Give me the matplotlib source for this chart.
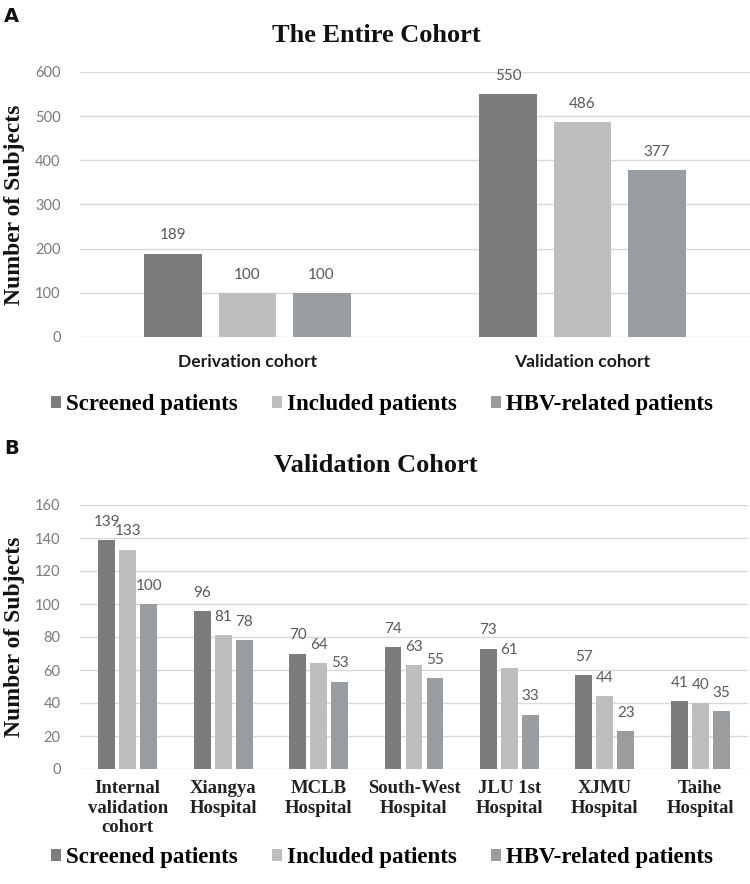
import matplotlib
matplotlib.use("Agg")
import matplotlib.pyplot as plt
from matplotlib.patches import Patch
import numpy as np

# ---- data ----
series_names = ["Screened patients", "Included patients", "HBV-related patients"]
colors = ["#7b7c7e", "#bdbec0", "#9a9d9f"]

a_categories = ["Derivation cohort", "Validation cohort"]
a_screened = [189, 550]
a_included = [100, 486]
a_hbv = [100, 377]
a_ticks = [0, 100, 200, 300, 400, 500, 600]

b_categories = ["Internal\nvalidation\ncohort", "Xiangya\nHospital", "MCLB\nHospital",
                "South-West\nHospital", "JLU 1st\nHospital", "XJMU\nHospital", "Taihe\nHospital"]
b_screened = [139, 96, 70, 74, 73, 57, 41]
b_included = [133, 81, 64, 63, 61, 44, 40]
b_hbv = [100, 78, 53, 55, 33, 23, 35]
b_ticks = [0, 20, 40, 60, 80, 100, 120, 140, 160]

W, H = 750, 884
fig = plt.figure(figsize=(W / 100, H / 100), dpi=100)
fig.patch.set_facecolor("white")

SANS = ["Lato", "DejaVu Sans"]
SERIF = ["Liberation Serif", "DejaVu Serif"]
TICK_C = "#7a7a7a"
LAB_C = "#595959"
GRID_C = "#d9d9d9"


def px_axes(x0, y_top, x1, y_bot):
    return fig.add_axes([x0 / W, 1 - y_bot / H, (x1 - x0) / W, (y_bot - y_top) / H])


def draw_panel(ax, cats, series, ticks, width, step):
    n = len(cats)
    x = np.arange(n)
    for i, (vals, col) in enumerate(zip(series, colors)):
        pos = x + (i - 1) * step
        ax.bar(pos, vals, width=width, color=col, zorder=3)
        for xb, v in zip(pos, vals):
            ax.annotate(str(v), (xb, v), xytext=(0, 13), textcoords="offset points",
                        ha="center", va="center", fontsize=11, color=LAB_C,
                        family=SANS, zorder=4)
    ax.set_xlim(-0.5, n - 0.5)
    ax.set_ylim(ticks[0], ticks[-1])
    ax.set_yticks(ticks)
    ax.grid(axis="y", color=GRID_C, linewidth=1.0, zorder=0)
    ax.set_axisbelow(True)
    for s in ax.spines.values():
        s.set_visible(False)
    ax.tick_params(axis="y", length=0, pad=14, labelsize=10.5, labelcolor=TICK_C)
    for t in ax.get_yticklabels():
        t.set_family(SANS)
    ax.tick_params(axis="x", length=0)
    ax.set_xticks(x)
    ax.set_xticklabels([])
    ax.set_ylabel("Number of Subjects", family=SERIF, fontweight="bold",
                  fontsize=17, color="#111111", labelpad=4)
    ax.yaxis.set_label_coords(-0.082, 0.5)
    ax.patch.set_alpha(0)


def legend_at(y_px):
    handles = [Patch(facecolor=c, edgecolor="none") for c in colors]
    fig.legend(handles, series_names, loc="center", bbox_to_anchor=(382 / W, 1 - y_px / H),
               ncol=3, frameon=False, handlelength=0.45, handleheight=0.45,
               handletextpad=0.2, columnspacing=1.5,
               prop={"family": SERIF, "weight": "bold", "size": 16.5})


# ---- Panel A ----
axA = px_axes(80, 72, 750, 337)
draw_panel(axA, a_categories, [a_screened, a_included, a_hbv], a_ticks,
           width=0.173, step=0.221)
for i, c in enumerate(a_categories):
    axA.text(i, -0.094, c, transform=axA.get_xaxis_transform(), ha="center", va="center",
             family=SANS, fontweight="bold", fontsize=12.6, color="#1a1a1a")
fig.text(376 / W, 1 - 35 / H, "The Entire Cohort", ha="center", va="center",
         family=SERIF, fontweight="bold", fontsize=19, color="#111111")
fig.text(4 / W, 1 - 16 / H, "A", ha="left", va="center", family=["DejaVu Sans"],
         fontweight="bold", fontsize=14, color="#111111")
legend_at(405)

# ---- Panel B ----
axB = px_axes(80, 505, 748, 769)
draw_panel(axB, b_categories, [b_screened, b_included, b_hbv], b_ticks,
           width=0.178, step=0.22)
for i, c in enumerate(b_categories):
    axB.text(i, -0.042, c, transform=axB.get_xaxis_transform(), ha="center", va="top",
             family=SERIF, fontweight="bold", fontsize=13.5, color="#222222",
             linespacing=1.2)
fig.text(376 / W, 1 - 466 / H, "Validation Cohort", ha="center", va="center",
         family=SERIF, fontweight="bold", fontsize=19, color="#111111")
fig.text(4 / W, 1 - 448 / H, "B", ha="left", va="center", family=["DejaVu Sans"],
         fontweight="bold", fontsize=14, color="#111111")
legend_at(858)

fig.savefig("out.png", dpi=100, facecolor="white")
